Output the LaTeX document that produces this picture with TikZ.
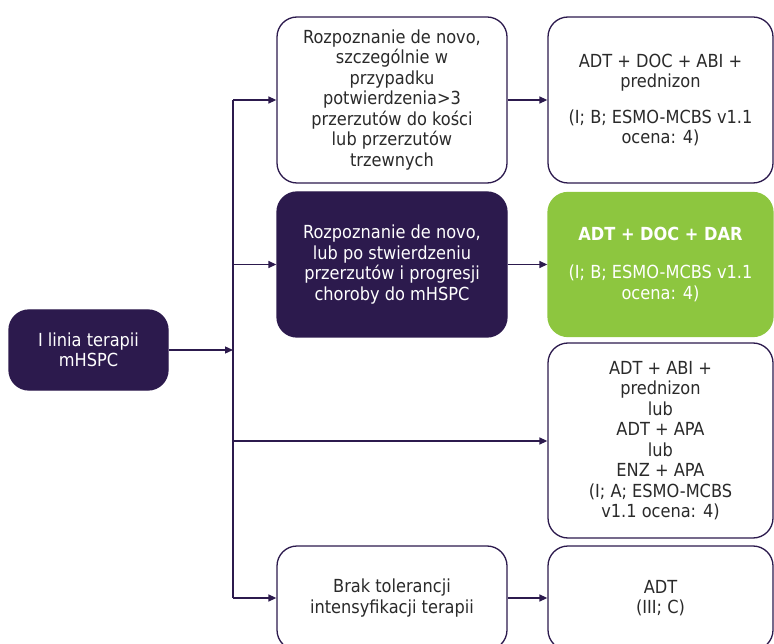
\documentclass[tikz,border=0pt]{standalone}
\usepackage{fontspec}
\setmainfont{DejaVu Sans Condensed}
\usetikzlibrary{arrows.meta}
\definecolor{navy}{HTML}{2C1A4D}
\definecolor{lime}{HTML}{8DC63F}
\definecolor{txt}{HTML}{2A2A2A}
\begin{document}
\begin{tikzpicture}[x=1pt,y=-1pt,
  box/.style={draw=navy, line width=1.3pt, rounded corners=20pt, fill=white, text=txt, align=center, inner sep=2pt, font=\fontsize{18}{20.5}\selectfont},
  dbox/.style={box, fill=navy, text=white},
  gbox/.style={box, draw=lime, fill=lime, text=white},
  arr/.style={draw=navy, line width=1.3pt, -{Triangle[length=8pt,width=7pt]}},
  ln/.style={draw=navy, line width=1.3pt}]
\useasboundingbox (0,0) rectangle (774,644);
\clip (0,0) rectangle (774,644);
\node[dbox, minimum width=159pt, minimum height=80pt] (lb) at (88.5,350) {I linia terapii\\mHSPC};
\node[box, minimum width=230pt, minimum height=166pt] (m1) at (392,100) {Rozpoznanie de novo,\\szczególnie w\\przypadku\\potwierdzenia>3\\przerzutów do kości\\lub przerzutów\\trzewnych};
\node[box, minimum width=225pt, minimum height=166pt] (r1) at (660.5,100) {ADT + DOC + ABI +\\prednizon\\[15pt](I; B; ESMO-MCBS v1.1\\ocena: 4)};
\node[dbox, minimum width=230pt, minimum height=145pt] (m2) at (392,264.5) {Rozpoznanie de novo,\\lub po stwierdzeniu\\przerzutów i progresji\\choroby do mHSPC};
\node[gbox, minimum width=225pt, minimum height=144pt] (r2) at (660.5,264.5) {\textbf{ADT + DOC + DAR}\\[18pt](I; B; ESMO-MCBS v1.1\\ocena: 4)};
\node[box, minimum width=225pt, minimum height=195pt] (r3) at (660.5,440.5) {ADT + ABI +\\prednizon\\lub\\ADT + APA\\lub\\ENZ + APA\\(I; A; ESMO-MCBS\\v1.1 ocena: 4)};
\node[box, minimum width=230pt, minimum height=104pt] (m4) at (392,598) {Brak tolerancji\\intensyfikacji terapii};
\node[box, minimum width=225pt, minimum height=104pt] (r4) at (660.5,598) {ADT\\(III; C)};
\coordinate (tA) at (233,100);
\coordinate (tB) at (233,264.5);
\coordinate (tC) at (233,441);
\coordinate (tD) at (233,598);
\draw[ln] (tA) -- (tD);
\draw[arr] (lb.east) -- (lb.east -| tA);
\draw[arr] (tA) -- (tA -| m1.west);
\draw[arr] (tB) -- (tB -| m2.west);
\draw[arr] (tC) -- (tC -| r3.west);
\draw[arr] (tD) -- (tD -| m4.west);
\draw[arr] (m1.east) -- (m1.east -| r1.west);
\draw[arr] (m2.east) -- (m2.east -| r2.west);
\draw[arr] (m4.east) -- (m4.east -| r4.west);
\end{tikzpicture}
\end{document}
